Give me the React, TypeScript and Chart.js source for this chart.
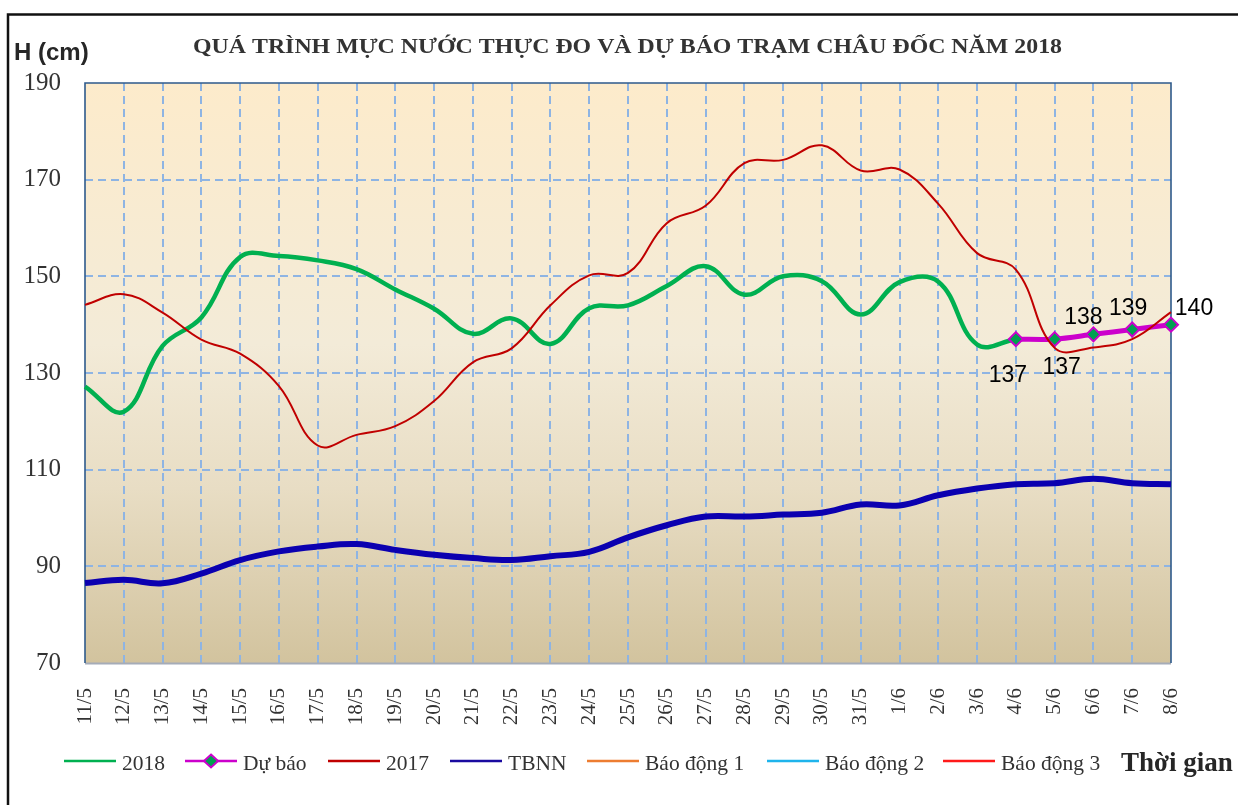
import React, { useEffect, useRef } from "react";
import { Chart, registerables } from "chart.js";

Chart.register(...registerables);

const categories = [
  "11/5", "12/5", "13/5", "14/5", "15/5", "16/5", "17/5", "18/5", "19/5", "20/5",
  "21/5", "22/5", "23/5", "24/5", "25/5", "26/5", "27/5", "28/5", "29/5", "30/5",
  "31/5", "1/6", "2/6", "3/6", "4/6", "5/6", "6/6", "7/6", "8/6",
];

const level2018: (number | null)[] = [
  127.2, 122, 135.6, 141.5, 154.0, 154.2, 153.3, 151.5, 147.3, 143.3,
  138.1, 141.3, 136, 143.4, 144, 148, 152.1, 146.2, 150, 149,
  142.1, 148.8, 148.9, 135.9, 137, null, null, null, null,
];

const forecast: (number | null)[] = [
  null, null, null, null, null, null, null, null, null, null,
  null, null, null, null, null, null, null, null, null, null,
  null, null, null, null, 137, 137, 138, 139, 140,
];

const level2017: (number | null)[] = [
  144.1, 146.3, 142.5, 136.9, 134, 127.3, 115, 117.2, 119, 124.2,
  132.2, 135.1, 144, 150.2, 150.7, 161, 164.6, 173.4, 174.1, 177.1,
  171.9, 172.1, 165, 154.8, 151.4, 135.2, 135.3, 137, 142.6,
];

const tbnn: (number | null)[] = [
  86.55, 87.2, 86.5, 88.5, 91.3, 93.1, 94.1, 94.6, 93.4, 92.4,
  91.7, 91.3, 92.1, 93.0, 96.0, 98.5, 100.3, 100.3, 100.7, 101.1,
  102.8, 102.6, 104.7, 106.1, 107, 107.2, 108.1, 107.2, 107,
];

const alarm1: (number | null)[] = [];
const alarm2: (number | null)[] = [];
const alarm3: (number | null)[] = [];

const yTicks = [70, 90, 110, 130, 150, 170, 190];

const TITLE = "QUÁ TRÌNH MỰC NƯỚC THỰC ĐO VÀ DỰ BÁO TRẠM CHÂU ĐỐC NĂM 2018";
const Y_TITLE = "H (cm)";
const X_TITLE = "Thời gian";

const GRID = "#8eb4e3";

export default function App() {
  const ref = useRef<HTMLCanvasElement | null>(null);

  useEffect(() => {
    const canvas = ref.current;
    if (!canvas) return;

    const decor = {
      id: "decor",
      beforeDraw(chart: any) {
        const { ctx, chartArea: a } = chart;
        ctx.save();
        ctx.fillStyle = "#ffffff";
        ctx.fillRect(0, 0, chart.width, chart.height);
        const g = ctx.createLinearGradient(0, a.top, 0, a.bottom);
        g.addColorStop(0, "#fdebcb");
        g.addColorStop(0.45, "#f3ebd8");
        g.addColorStop(0.7, "#e8ddc4");
        g.addColorStop(1, "#d2c39e");
        ctx.fillStyle = g;
        ctx.fillRect(a.left, a.top, a.right - a.left, a.bottom - a.top);
        // outer frame
        ctx.strokeStyle = "#111";
        ctx.lineWidth = 2.5;
        ctx.strokeRect(8, 14.5, 1400, 1000);
        ctx.restore();
      },
      beforeDatasetsDraw(chart: any) {
        const { ctx, chartArea: a } = chart;
        ctx.save();
        ctx.lineWidth = 2;
        ctx.strokeStyle = "#a5acb8";
        ctx.beginPath();
        ctx.moveTo(a.left, a.bottom + 0.5);
        ctx.lineTo(a.right, a.bottom + 0.5);
        ctx.stroke();
        ctx.lineWidth = 1.6;
        ctx.strokeStyle = "#2e5a8c";
        ctx.beginPath();
        ctx.moveTo(a.left, a.bottom);
        ctx.lineTo(a.left, a.top);
        ctx.lineTo(a.right, a.top);
        ctx.lineTo(a.right, a.bottom);
        ctx.stroke();
        ctx.restore();
      },
      afterDraw(chart: any) {
        const { ctx } = chart;
        ctx.save();
        // title
        ctx.fillStyle = "#333333";
        ctx.font = "bold 21.5px 'Liberation Serif'";
        ctx.textBaseline = "alphabetic";
        ctx.textAlign = "left";
        const tw = ctx.measureText(TITLE).width;
        const target = 869;
        ctx.save();
        ctx.translate(193, 53);
        ctx.scale(target / tw, 1);
        ctx.fillText(TITLE, 0, 0);
        ctx.restore();

        // y title
        ctx.fillStyle = "#262626";
        ctx.font = "bold 24px 'Liberation Sans'";
        ctx.fillText(Y_TITLE, 14, 60);

        // data labels on forecast
        const meta = chart.getDatasetMeta(1);
        const offs: Record<number, [number, number]> = {
          24: [-8, 36],
          25: [7, 28],
          26: [-10, -17],
          27: [-4, -21],
          28: [23, -16],
        };
        ctx.fillStyle = "#000";
        ctx.font = "23px 'Liberation Sans'";
        ctx.textAlign = "center";
        ctx.textBaseline = "middle";
        forecast.forEach((v, i) => {
          if (v == null) return;
          const p = meta.data[i];
          const o = offs[i] || [0, -18];
          ctx.fillText(String(v), p.x + o[0], p.y + o[1]);
        });

        // legend
        const starts = [64, 185, 328, 450, 587, 767, 943];
        const ly = 761;
        ctx.textAlign = "left";
        ctx.textBaseline = "alphabetic";
        ctx.font = "21.5px 'Liberation Serif'";
        chart.data.datasets.forEach((ds: any, i: number) => {
          const x = starts[i];
          ctx.strokeStyle = ds.legendColor || ds.borderColor;
          ctx.lineWidth = 2.5;
          ctx.beginPath();
          ctx.moveTo(x, ly);
          ctx.lineTo(x + 52, ly);
          ctx.stroke();
          if (ds.pointStyle === "rectRot") {
            ctx.fillStyle = ds.pointBackgroundColor;
            ctx.strokeStyle = ds.pointBorderColor;
            ctx.lineWidth = 2;
            ctx.beginPath();
            ctx.moveTo(x + 26, ly - 6.5);
            ctx.lineTo(x + 33, ly);
            ctx.lineTo(x + 26, ly + 6.5);
            ctx.lineTo(x + 19, ly);
            ctx.closePath();
            ctx.fill();
            ctx.stroke();
          }
          ctx.fillStyle = "#333333";
          ctx.fillText(ds.label, x + 58, 770);
        });
        ctx.fillStyle = "#262626";
        ctx.font = "bold 27px 'Liberation Serif'";
        ctx.fillText(X_TITLE, 1121, 771);
        ctx.restore();
      },
    };

    const last = categories.length - 1;

    const chart = new Chart(canvas, {
      type: "line",
      data: {
        labels: categories,
        datasets: [
          {
            label: "2018",
            data: level2018,
            borderColor: "#00b050",
            borderWidth: 4.5,
            tension: 0.4,
            pointRadius: 0,
            order: 2,
          } as any,
          {
            label: "Dự báo",
            data: forecast,
            borderColor: "#cc00cc",
            borderWidth: 5,
            tension: 0.3,
            pointStyle: "rectRot",
            pointRadius: 7,
            pointBackgroundColor: "#00a050",
            pointBorderColor: "#cc00cc",
            pointBorderWidth: 2,
            order: 1,
          },
          {
            label: "2017",
            data: level2017,
            borderColor: "#c00000",
            borderWidth: 2,
            tension: 0.4,
            pointRadius: 0,
            order: 0,
          },
          {
            label: "TBNN",
            data: tbnn,
            borderColor: "#0b00b0",
            legendColor: "#1a0aa0",
            borderWidth: 6,
            tension: 0.4,
            pointRadius: 0,
            order: 3,
          },
          {
            label: "Báo động 1",
            data: alarm1,
            borderColor: "#ed7d31",
            borderWidth: 2,
            pointRadius: 0,
            order: 4,
          },
          {
            label: "Báo động 2",
            data: alarm2,
            borderColor: "#1fb4ec",
            borderWidth: 2,
            pointRadius: 0,
            order: 5,
          },
          {
            label: "Báo động 3",
            data: alarm3,
            borderColor: "#ff1a1a",
            borderWidth: 2,
            pointRadius: 0,
            order: 6,
          },
        ],
      },
      options: {
        responsive: false,
        animation: false,
        devicePixelRatio: 1,
        spanGaps: false,
        layout: { padding: { top: 83, right: 67, bottom: 0, left: 0 } },
        plugins: {
          legend: { display: false },
          tooltip: { enabled: false },
          title: { display: false },
        },
        scales: {
          x: {
            type: "category",
            offset: false,
            grid: {
              offset: false,
              drawTicks: false,
              lineWidth: 2,
              color: (c: any) =>
                c.index === 0 || c.index === last ? "rgba(0,0,0,0)" : GRID,
            },
            border: { display: false, dash: [8, 5] },
            ticks: {
              autoSkip: false,
              minRotation: 90,
              maxRotation: 90,
              padding: 25,
              color: "#333333",
              font: { family: "'Liberation Serif'", size: 21 },
            },
            afterFit: (s: any) => {
              s.height = 142;
            },
          },
          y: {
            min: 70,
            max: 190,
            grid: {
              drawTicks: false,
              lineWidth: 2,
              color: (c: any) =>
                c.tick && (c.tick.value === 70 || c.tick.value === 190)
                  ? "rgba(0,0,0,0)"
                  : GRID,
            },
            border: { display: false, dash: [8, 5] },
            ticks: {
              padding: 24,
              color: "#333333",
              font: { family: "'Liberation Serif'", size: 25 },
            },
            afterBuildTicks: (s: any) => {
              s.ticks = yTicks.map((v) => ({ value: v }));
            },
            afterFit: (s: any) => {
              s.width = 85;
            },
          },
        },
      } as any,
      plugins: [decor],
    });

    return () => chart.destroy();
  }, []);

  return (
    <div style={{ position: "absolute", left: 0, top: 0, width: 1238, height: 805 }}>
      <canvas ref={ref} width={1238} height={805} style={{ display: "block", width: 1238, height: 805 }} />
    </div>
  );
}
